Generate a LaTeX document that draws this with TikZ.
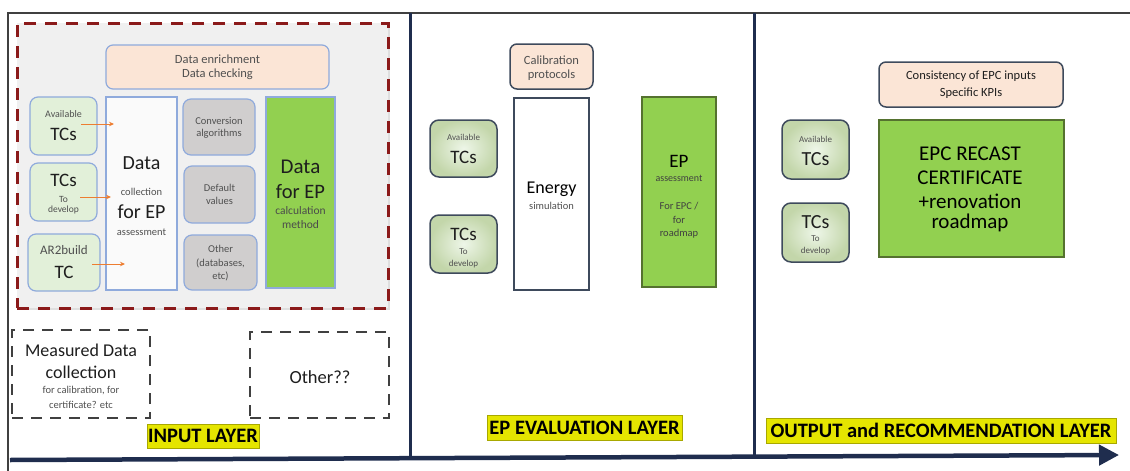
\documentclass[tikz,border=0pt]{standalone}
\usepackage{fontspec}
\setmainfont{Carlito}
\usetikzlibrary{arrows.meta,shadows}

\definecolor{navy}{HTML}{1F2D4E}
\definecolor{framegray}{HTML}{404040}
\definecolor{dashred}{HTML}{8B1A1A}
\definecolor{panelgray}{HTML}{F0F0F0}
\definecolor{edgeblue}{HTML}{8FAADC}
\definecolor{peach}{HTML}{FBE5D6}
\definecolor{mint}{HTML}{E2F0D9}
\definecolor{mintdark}{HTML}{C3D6AA}
\definecolor{stone}{HTML}{D0CECE}
\definecolor{leaf}{HTML}{92D050}
\definecolor{leafedge}{HTML}{55722F}
\definecolor{darkedge}{HTML}{3E4A5C}
\definecolor{hilite}{HTML}{E5E500}
\definecolor{hiliteedge}{HTML}{A8A800}
\definecolor{orangearrow}{HTML}{ED7D31}
\definecolor{ink}{HTML}{1E1E1E}
\definecolor{softink}{HTML}{505050}

\newcommand\fsz[1]{\fontsize{#1}{#1}\selectfont}

\tikzset{
  x=1pt, y=-1pt,
  base/.style={inner sep=0pt, outer sep=0pt},
  lightbox/.style={base, draw=edgeblue, line width=1.2pt},
  darkbox/.style={base, draw=darkedge, line width=1.5pt},
  tx/.style={inner sep=0pt, outer sep=0pt, text=ink, align=center},
  sm/.style={tx, text=softink},
  label/.style={base, fill=hilite, draw=hiliteedge, line width=0.6pt,
    font=\bfseries\fsz{20.5}, text=black},
  feed/.style={draw=orangearrow, line width=0.9pt,
    -{Stealth[length=5pt,width=4.5pt]}},
  layerline/.style={draw=navy, line width=3pt},
  blackdash/.style={base, draw=framegray, line width=2pt,
    dash pattern=on 11pt off 8pt},
}

\begin{document}
\begin{tikzpicture}
\useasboundingbox (0,0) rectangle (1130,471);

% outer frame and layer dividers
\coordinate (topL) at (8,13);
\coordinate (topR) at (1130,13);
\coordinate (botL) at (8,471);
\draw[framegray, line width=2pt] (botL) -- (topL) -- (topR);
\coordinate (d1t) at (410,13);
\coordinate (d1b) at (410,459);
\coordinate (d2t) at (754,13);
\coordinate (d2b) at (754,457);
\draw[layerline] (d1t) -- (d1b);
\draw[layerline] (d2t) -- (d2b);

% time axis
\coordinate (axs) at (10,460);
\coordinate (axe) at (1119,455);
\draw[navy, line width=4.5pt, -{Triangle[length=20pt,width=20pt]}] (axs) -- (axe);

% ---------------- input layer ----------------
\node[base, fill=panelgray, draw=dashred, line width=3pt,
  dash pattern=on 12pt off 9pt,
  drop shadow={opacity=0.25, shadow xshift=1.5pt, shadow yshift=-1.5pt},
  minimum width=371pt, minimum height=285pt] (panel) at (202.5,165.5) {};

\node[lightbox, fill=peach, rounded corners=7pt, minimum width=223pt, minimum height=44pt] (enrich) at (217.5,67) {};
\node[sm, font=\fsz{12.5}] (enrich1) at (217.5,59) {Data enrichment};
\node[sm, font=\fsz{12.5}] (enrich2) at (217.5,74) {Data checking};

\node[lightbox, fill=mint, rounded corners=8pt, minimum width=67pt, minimum height=58pt] (avL) at (63.5,126) {};
\node[sm, font=\fsz{10}] (avL1) at (63.5,114) {Available};
\node[tx, font=\fsz{19}] (avL2) at (63.5,134) {TCs};

\node[lightbox, fill=mint, rounded corners=8pt, minimum width=67pt, minimum height=58pt] (tdL) at (63.5,192) {};
\node[tx, font=\fsz{19}] (tdL1) at (63.5,180) {TCs};
\node[sm, font=\fsz{9.5}] (tdL2) at (63.5,199) {To};
\node[sm, font=\fsz{9.5}] (tdL3) at (63.5,210) {develop};

\node[lightbox, fill=mint, rounded corners=8pt, minimum width=72pt, minimum height=57pt] (arL) at (64,262.5) {};
\node[sm, font=\fsz{13}] (arL1) at (64,250) {AR2build};
\node[tx, font=\fsz{19}] (arL2) at (64,272) {TC};

\node[lightbox, fill=white!96!gray, minimum width=71pt, minimum height=193pt] (dcoll) at (141.5,193.5) {};
\node[tx, font=\fsz{20}] (dcoll1) at (141.5,163) {Data};
\node[sm, font=\fsz{10.5}] (dcoll2) at (141.5,192) {collection};
\node[tx, font=\fsz{20}] (dcoll3) at (141.5,212) {for EP};
\node[sm, font=\fsz{10.5}] (dcoll4) at (141.5,232) {assessment};

\node[lightbox, fill=stone, rounded corners=8pt, minimum width=72pt, minimum height=56pt] (conv) at (219,127) {};
\node[sm, font=\fsz{10.5}] (conv1) at (219,121) {Conversion};
\node[sm, font=\fsz{10.5}] (conv2) at (219,134) {algorithms};

\node[lightbox, fill=stone, rounded corners=8pt, minimum width=71pt, minimum height=57pt] (defv) at (219.5,194.5) {};
\node[sm, font=\fsz{10.5}] (defv1) at (219.5,188) {Default};
\node[sm, font=\fsz{10.5}] (defv2) at (219.5,201) {values};

\node[lightbox, fill=stone, rounded corners=8pt, minimum width=73pt, minimum height=55pt] (othr) at (220.5,262.5) {};
\node[sm, font=\fsz{10.5}] (othr1) at (220.5,249) {Other};
\node[sm, font=\fsz{10.5}] (othr2) at (220.5,263) {(databases,};
\node[sm, font=\fsz{10.5}] (othr3) at (220.5,276) {etc)};

\node[lightbox, fill=leaf, minimum width=69pt, minimum height=191pt] (dfep) at (300.5,192.5) {};
\node[tx, font=\fsz{21}] (dfep1) at (300.5,167) {Data};
\node[tx, font=\fsz{20.5}] (dfep2) at (300.5,192) {for EP};
\node[sm, text=ink!80, font=\fsz{11.5}] (dfep3) at (300.5,211) {calculation};
\node[sm, text=ink!80, font=\fsz{11.5}] (dfep4) at (300.5,225) {method};

% feeds into the data collection
\coordinate (f1s) at (81,124);  \coordinate (f1e) at (114,124);
\coordinate (f2s) at (80,197);  \coordinate (f2e) at (111,197);
\coordinate (f3s) at (92,264);  \coordinate (f3e) at (125,264);
\draw[feed] (f1s) -- (f1e);
\draw[feed] (f2s) -- (f2e);
\draw[feed] (f3s) -- (f3e);

\node[blackdash, minimum width=138pt, minimum height=88pt] (meas) at (81,374) {};
\node[tx, font=\fsz{18}] (meas1) at (81,350) {Measured Data};
\node[tx, font=\fsz{18}] (meas2) at (81,372) {collection};
\node[sm, font=\fsz{10.5}] (meas3) at (81,391) {for calibration, for};
\node[sm, font=\fsz{10.5}] (meas4) at (81,405) {certificate? etc};

\node[blackdash, minimum width=139pt, minimum height=86pt] (oth2) at (319.5,375) {};
\node[tx, font=\fsz{18.5}] (oth2t) at (320,377) {Other??};

\node[label, minimum width=112pt, minimum height=24pt] (inlab) at (203,436) {INPUT LAYER};

% ---------------- evaluation layer ----------------
\node[darkbox, fill=peach, rounded corners=7pt, minimum width=83pt, minimum height=45pt] (calib) at (551.5,66.5) {};
\node[sm, font=\fsz{12.5}] (calib1) at (551.5,60) {Calibration};
\node[sm, font=\fsz{12.5}] (calib2) at (551.5,75) {protocols};

\node[darkbox, inner color=mint!60, outer color=mintdark, rounded corners=9pt, minimum width=67pt, minimum height=57pt] (avM) at (463.5,148.5) {};
\node[sm, font=\fsz{9}] (avM1) at (463.5,137) {Available};
\node[tx, font=\fsz{19}] (avM2) at (463.5,157) {TCs};

\node[darkbox, inner color=mint!60, outer color=mintdark, rounded corners=9pt, minimum width=67pt, minimum height=58pt] (tdM) at (463.5,244) {};
\node[tx, font=\fsz{19}] (tdM1) at (463.5,234) {TCs};
\node[sm, font=\fsz{9}] (tdM2) at (463.5,252) {To};
\node[sm, font=\fsz{9}] (tdM3) at (463.5,264) {develop};

\node[darkbox, fill=white, minimum width=75pt, minimum height=192pt] (esim) at (551.5,194) {};
\node[tx, text=black, font=\fsz{18}] (esim1) at (551.5,189) {Energy};
\node[sm, font=\fsz{10.5}] (esim2) at (551.5,206) {simulation};

\node[base, fill=leaf, draw=leafedge, line width=2pt, minimum width=74pt, minimum height=190pt] (epM) at (679,192) {};
\node[tx, text=black, font=\fsz{19}] (epM1) at (679,161) {EP};
\node[tx, text=ink!85, font=\fsz{10}] (epM2) at (679,178) {assessment};
\node[tx, text=ink!85, font=\fsz{10.5}] (epM3) at (679,206) {For EPC /};
\node[tx, text=ink!85, font=\fsz{10.5}] (epM4) at (679,220) {for};
\node[tx, text=ink!85, font=\fsz{10.5}] (epM5) at (679,234) {roadmap};

\node[label, minimum width=195pt, minimum height=25pt] (evlab) at (584.5,427.5) {EP EVALUATION LAYER};

% ---------------- output layer ----------------
\node[darkbox, fill=peach, rounded corners=7pt, minimum width=184pt, minimum height=45pt] (cons) at (971,84.5) {};
\node[sm, text=ink, font=\fsz{12.5}] (cons1) at (971,76) {Consistency of EPC inputs};
\node[sm, text=ink, font=\fsz{12.5}] (cons2) at (971,93) {Specific KPIs};

\node[darkbox, inner color=mint!60, outer color=mintdark, rounded corners=9pt, minimum width=67pt, minimum height=59pt] (avR) at (815.5,149.5) {};
\node[sm, font=\fsz{9}] (avR1) at (815.5,139) {Available};
\node[tx, font=\fsz{20}] (avR2) at (815.5,159) {TCs};

\node[darkbox, inner color=mint!60, outer color=mintdark, rounded corners=9pt, minimum width=67pt, minimum height=59pt] (tdR) at (815.5,232.5) {};
\node[tx, font=\fsz{20}] (tdR1) at (815.5,222) {TCs};
\node[sm, font=\fsz{9}] (tdR2) at (815.5,239) {To};
\node[sm, font=\fsz{9}] (tdR3) at (815.5,251) {develop};

\node[base, fill=leaf, draw=leafedge, line width=2pt, minimum width=185pt, minimum height=137pt] (epc) at (971.5,188.5) {};
\node[tx, text=black, font=\fsz{21}] (epc1) at (970,154) {EPC RECAST};
\node[tx, text=black, font=\fsz{21}] (epc2) at (970,178) {CERTIFICATE};
\node[tx, text=black, font=\fsz{21}] (epc3) at (970,201) {+renovation};
\node[tx, text=black, font=\fsz{21}] (epc4) at (970,223) {roadmap};

\node[label, minimum width=350pt, minimum height=25pt] (outlab) at (941,430.5) {OUTPUT and RECOMMENDATION LAYER};

\end{tikzpicture}
\end{document}
